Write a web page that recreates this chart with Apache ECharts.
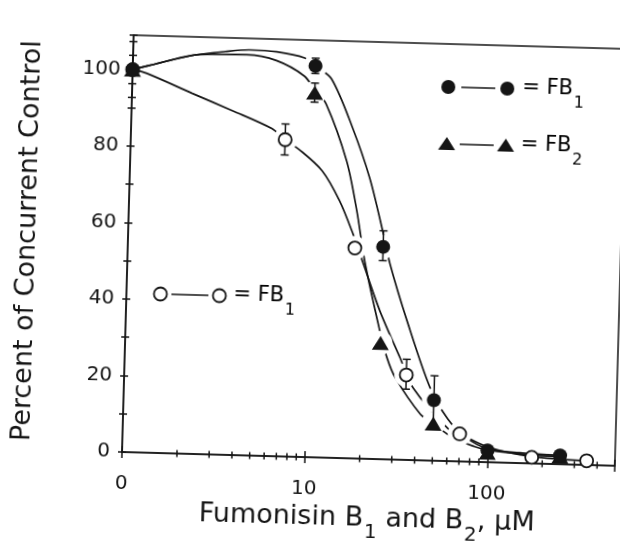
<!DOCTYPE html>
<html>
<head>
<meta charset="utf-8">
<script src="https://cdn.jsdelivr.net/npm/echarts@6/dist/echarts.min.js"></script>
<style>
  html, body { margin: 0; padding: 0; background: #fff; overflow: hidden; }
  /* the scanned figure is tilted a little clockwise */
  #chart { width: 620px; height: 542px; transform: rotate(1.6deg); transform-origin: 122px 452px; }
</style>
</head>
<body>
<div id="chart"></div>
<script>
// measured points (uM, % of control)
const fb1X = [1, 10, 25, 50, 100, 250];
const fb1Y = [100, 102.3, 55.5, 15.8, 3.1, 2.3];
const fb2X = [1, 10, 25, 50, 100, 250];
const fb2Y = [100, 95.3, 30.4, 9.7, 2.5, 2];
const openX = [1, 7, 17.5, 35, 70, 175, 350];
const openY = [100, 82.8, 55, 22.2, 7.2, 1.6, 1.1];

// fitted curves
const fb1CurveX = [1, 1.23, 2.1, 3.2, 4.3, 6.1, 8.7, 10, 12.3, 16.3, 20.6, 24.7, 27.4, 34.7, 47.5, 60, 75, 100, 150, 250];
const fb1CurveY = [100, 101.2, 104.1, 105.4, 106, 105.7, 104.3, 102.3, 99, 86.4, 73.4, 59.7, 51.1, 36.3, 19, 11, 6.5, 3.5, 2.7, 2.3];
const fb2CurveX = [1, 1.23, 2.3, 4.2, 6.1, 8.7, 10, 11.6, 15.3, 17.7, 19.9, 24.7, 27.3, 30.5, 42.3, 50, 65, 85, 100, 150, 250];
const fb2CurveY = [100, 101.2, 104.4, 104.7, 103.4, 99.6, 96, 92.4, 77.7, 64.8, 51.7, 33.5, 26.5, 21.4, 12.1, 9.7, 6, 4, 3.2, 2.4, 2];
const openCurveX = [1, 1.2, 2.14, 3.56, 5.9, 7, 8.4, 11.3, 14.2, 17, 19.5, 24.5, 32.2, 38.3, 60.6, 70, 100, 175, 350];
const openCurveY = [100, 99.1, 94.2, 90, 85.6, 82.8, 80.3, 74.9, 67.2, 58.7, 51.2, 38.8, 26.6, 18.9, 8.4, 7.2, 4, 1.8, 1.1];

// error bars
const errX = [1, 1, 10, 10, 7, 25, 35, 50];
const errLow = [96.3, 92.7, 100.3, 92.8, 78.8, 51.9, 18.5, 9.4];
const errHigh = [103.7, 107.3, 104.3, 97.8, 86.9, 59.7, 26.3, 22.2];

// minor ticks on the log axis
const minorTicksX = [2, 3, 4, 5, 6, 7, 8, 9, 20, 30, 40, 50, 60, 70, 80, 90, 200, 300, 400];

const ink = "#151515";
const font = "DejaVu Sans";

const pairs = (xs, ys) => xs.map((x, i) => [x, ys[i]]);
// white halo around markers so the curves stop short of them
const halo = (xs, ys) => pairs(xs, ys).filter((p) => p[0] > 1 && p[1] > 5);

const subRich = (size, drop) => ({
  m: { fontFamily: font, fontSize: size, color: ink, lineHeight: size + 4, verticalAlign: "top" },
  s: { fontFamily: font, fontSize: Math.round(size * 0.75), color: ink, lineHeight: Math.round(size * 0.75), verticalAlign: "top", padding: [drop, 0, 0, 1] },
});

const curve = (xs, ys) => ({
  type: "line",
  data: pairs(xs, ys),
  smooth: 0.3,
  showSymbol: false,
  silent: true,
  z: 2,
  lineStyle: { color: ink, width: 1.7 },
});

const haloSeries = (xs, ys) => ({
  type: "scatter",
  data: halo(xs, ys),
  symbol: "circle",
  symbolSize: 24,
  silent: true,
  z: 3,
  itemStyle: { color: "#fff", opacity: 1 },
});

let myChart = echarts.init(document.getElementById("chart"));
myChart.setOption({
  animation: false,
  backgroundColor: "#fff",
  grid: {
    left: 122,
    right: 5,
    top: 35,
    bottom: 90,
    show: true,
    borderColor: ink,
    borderWidth: 1.5,
    containLabel: false,
    outerBoundsMode: "none",
  },
  xAxis: [
    {
      type: "log",
      logBase: 10,
      min: 1,
      max: 500,
      name: "{m|Fumonisin B}{s|1}{m| and B}{s|2}{m|, μM}",
      nameLocation: "middle",
      nameGap: 44,
      nameTextStyle: { rich: subRich(27, 17) },
      axisLine: { onZero: false, lineStyle: { color: ink, width: 1.5 } },
      axisTick: { length: 6, lineStyle: { color: ink, width: 1.5 } },
      axisLabel: {
        margin: 22,
        fontFamily: font,
        fontSize: 20,
        color: ink,
        formatter: (v) => {
          const r = Math.round(v);
          if (r === 1) return "0";
          return r === 10 || r === 100 ? String(r) : "";
        },
      },
      splitLine: { show: false },
    },
    {
      type: "log",
      logBase: 10,
      min: 1,
      max: 500,
      position: "bottom",
      axisLine: { show: false },
      axisTick: { inside: true, length: 6, lineStyle: { color: ink, width: 1.5 } },
      axisLabel: { show: false },
      splitLine: { show: false },
    },
  ],
  yAxis: [
    {
      type: "value",
      min: 0,
      max: 109,
      interval: 10,
      name: "Percent of Concurrent Control",
      nameLocation: "middle",
      nameGap: 87,
      nameTextStyle: { fontFamily: font, fontSize: 27, color: ink },
      axisLine: { show: true, onZero: false, lineStyle: { color: ink, width: 1.5 } },
      axisTick: { show: true, length: 4, lineStyle: { color: ink, width: 1.5 } },
      axisLabel: {
        margin: 12,
        fontFamily: font,
        fontSize: 20,
        color: ink,
        formatter: (v) => (v % 20 === 0 ? String(v) : ""),
      },
      splitLine: { show: false },
    },
    {
      type: "value",
      min: 0,
      max: 109,
      interval: 10,
      position: "left",
      axisLine: { show: false },
      axisTick: { show: true, inside: true, length: 4, lineStyle: { color: ink, width: 1.5 } },
      axisLabel: { show: false },
      splitLine: { show: false },
    },
  ],
  series: [
    {
      type: "custom",
      silent: true,
      z: 1,
      data: minorTicksX.map((v) => [v, 0]),
      encode: { x: 0, y: 1 },
      renderItem(params, api) {
        const p = api.coord([api.value(0), 0]);
        return {
          type: "line",
          shape: { x1: p[0], y1: p[1] - 3.5, x2: p[0], y2: p[1] + 3.5 },
          style: { stroke: ink, lineWidth: 1.5 },
        };
      },
    },
    curve(fb1CurveX, fb1CurveY),
    curve(fb2CurveX, fb2CurveY),
    curve(openCurveX, openCurveY),
    haloSeries(fb1X, fb1Y),
    haloSeries(fb2X, fb2Y),
    haloSeries(openX, openY),
    {
      type: "custom",
      silent: true,
      z: 4,
      data: errX.map((x, i) => [x, errLow[i], errHigh[i]]),
      encode: { x: 0, y: [1, 2] },
      renderItem(params, api) {
        const lo = api.coord([api.value(0), api.value(1)]);
        const hi = api.coord([api.value(0), api.value(2)]);
        const w = 4;
        const st = { stroke: ink, lineWidth: 1.5 };
        return {
          type: "group",
          children: [
            { type: "line", shape: { x1: lo[0], y1: lo[1], x2: hi[0], y2: hi[1] }, style: st },
            { type: "line", shape: { x1: lo[0] - w, y1: lo[1], x2: lo[0] + w, y2: lo[1] }, style: st },
            { type: "line", shape: { x1: hi[0] - w, y1: hi[1], x2: hi[0] + w, y2: hi[1] }, style: st },
          ],
        };
      },
    },
    {
      type: "scatter",
      data: pairs(openX, openY),
      symbol: "circle",
      symbolSize: 13,
      z: 5,
      itemStyle: { color: "#fff", borderColor: ink, borderWidth: 1.8, opacity: 1 },
    },
    {
      type: "scatter",
      data: pairs(fb2X, fb2Y),
      symbol: "triangle",
      symbolSize: [17, 14],
      z: 6,
      itemStyle: { color: ink, opacity: 1 },
    },
    {
      type: "scatter",
      data: pairs(fb1X, fb1Y),
      symbol: "circle",
      symbolSize: 14,
      z: 7,
      itemStyle: { color: ink, opacity: 1 },
    },
  ],
  graphic: [
    // filled circles = FB1
    { type: "circle", shape: { cx: 438, cy: 78, r: 7 }, style: { fill: ink } },
    { type: "line", shape: { x1: 451, y1: 78, x2: 485, y2: 78 }, style: { stroke: ink, lineWidth: 1.5 } },
    { type: "circle", shape: { cx: 497, cy: 78, r: 7 }, style: { fill: ink } },
    { type: "text", x: 512, y: 66, style: { text: "{m|= FB}{s|1}", rich: subRich(21, 17) } },
    // triangles = FB2
    { type: "polygon", shape: { points: [[438, 128], [446.5, 141], [429.5, 141]] }, style: { fill: ink } },
    { type: "line", shape: { x1: 451, y1: 135, x2: 485, y2: 135 }, style: { stroke: ink, lineWidth: 1.5 } },
    { type: "polygon", shape: { points: [[497, 128], [505.5, 141], [488.5, 141]] }, style: { fill: ink } },
    { type: "text", x: 512, y: 123, style: { text: "{m|= FB}{s|2}", rich: subRich(21, 17) } },
    // open circles = FB1
    { type: "circle", shape: { cx: 156, cy: 293, r: 6.5 }, style: { fill: "#fff", stroke: ink, lineWidth: 1.8 } },
    { type: "line", shape: { x1: 167, y1: 293, x2: 204, y2: 293 }, style: { stroke: ink, lineWidth: 1.5 } },
    { type: "circle", shape: { cx: 215, cy: 293, r: 6.5 }, style: { fill: "#fff", stroke: ink, lineWidth: 1.8 } },
    { type: "text", x: 229, y: 281, style: { text: "{m|= FB}{s|1}", rich: subRich(21, 17) } },
  ],
});
</script>
</body>
</html>
